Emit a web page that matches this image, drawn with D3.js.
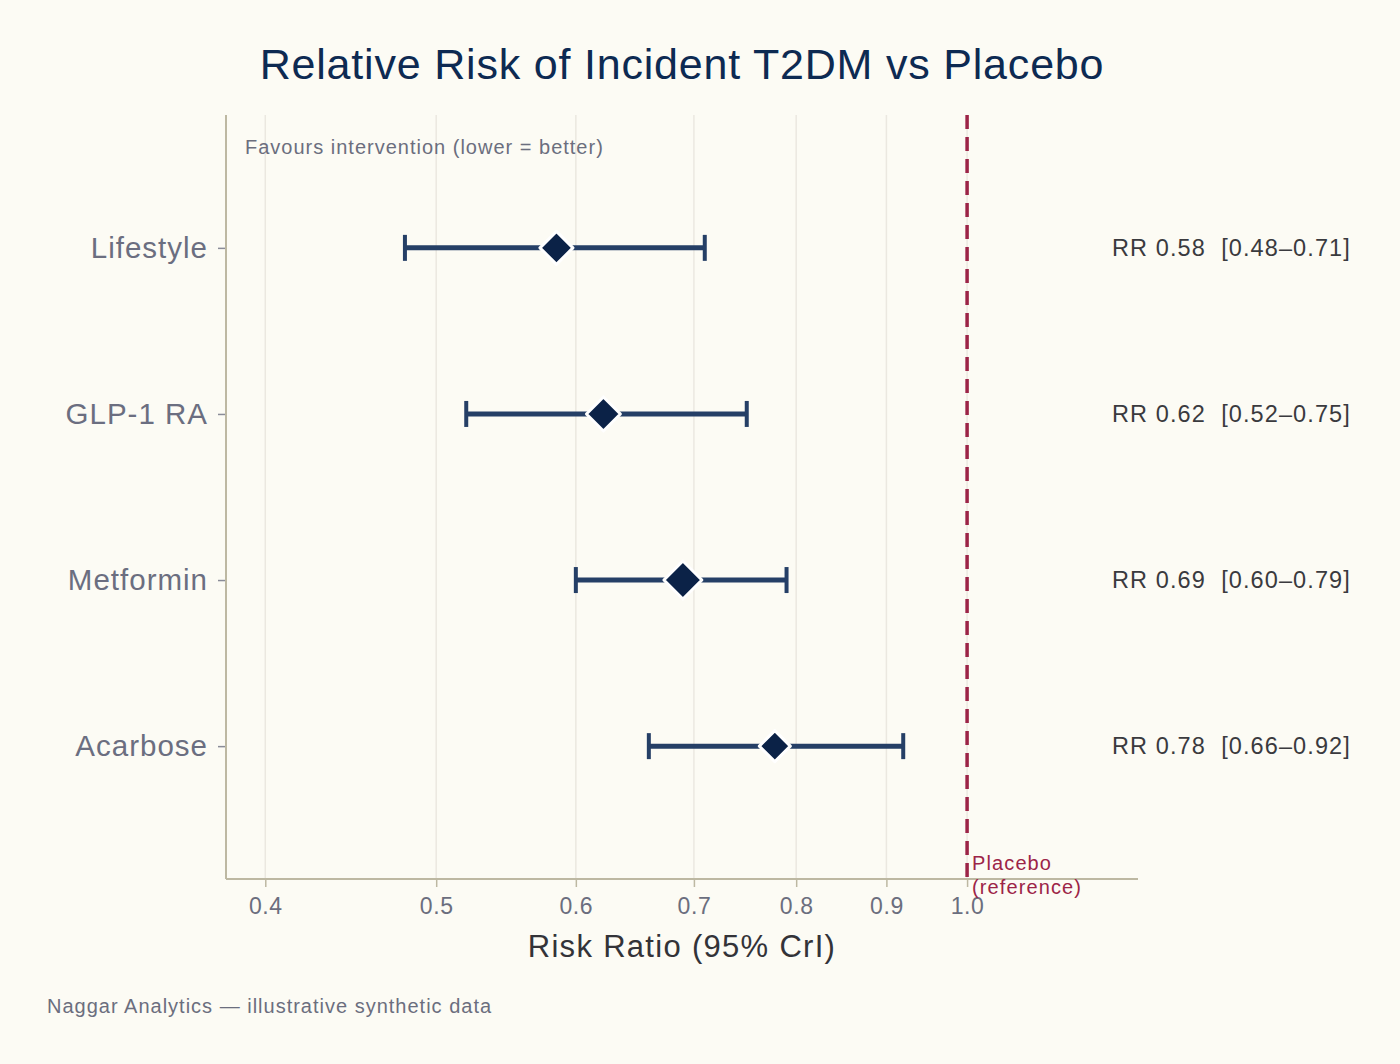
<!DOCTYPE html>
<html>
<head>
<meta charset="utf-8">
<script src="https://cdn.jsdelivr.net/npm/d3@7"></script>
<style>
  html, body { margin: 0; padding: 0; background: #fcfbf4; }
  svg { display: block; font-family: "Liberation Sans", Arial, Helvetica, sans-serif; }
  text { white-space: pre; }
</style>
</head>
<body>
<svg id="chart" width="1400" height="1064"></svg>
<script>
const categories = ["Lifestyle", "GLP-1 RA", "Metformin", "Acarbose"];
const estimates = [0.585, 0.622, 0.69, 0.778];
const lowerCI = [0.48, 0.52, 0.60, 0.66];
const upperCI = [0.71, 0.75, 0.79, 0.92];
const rrLabels = ["RR 0.58  [0.48\u20130.71]", "RR 0.62  [0.52\u20130.75]", "RR 0.69  [0.60\u20130.79]", "RR 0.78  [0.66\u20130.92]"];
const markerWeights = [16.5, 17, 19, 15.5];
const xTicks = [0.4, 0.5, 0.6, 0.7, 0.8, 0.9, 1.0];
const referenceValue = 1.0;

const svg = d3.select("#chart");
const W = 1400, H = 1064;
const m = { left: 226, right: 1138, top: 115, bottom: 879 };
const FONT = "Liberation Sans, Arial, sans-serif";

svg.append("rect").attr("width", W).attr("height", H).attr("fill", "#fcfbf4");

const x = d3.scaleLog().domain([0.38, 1.25]).range([m.left, m.right]);
const y = d3.scalePoint().domain(categories).range([m.top, m.bottom]).padding(0.8);

// gridlines
svg.append("g").selectAll("line").data(xTicks).join("line")
  .attr("x1", d => x(d)).attr("x2", d => x(d))
  .attr("y1", m.top).attr("y2", m.bottom)
  .attr("stroke", "#ebe8e0").attr("stroke-width", 1.5);

// x axis
const xAxis = d3.axisBottom(x).tickValues(xTicks).tickFormat(d3.format(".1f")).tickSize(8).tickPadding(11);
const gx = svg.append("g").attr("transform", `translate(0,${m.bottom})`).call(xAxis);
gx.select(".domain").remove();
gx.selectAll(".tick line").attr("stroke", "#bdb8a2").attr("stroke-width", 1.5);
gx.selectAll(".tick text").attr("fill", "#6b6e7e").attr("font-size", 23).attr("letter-spacing", 0.6).attr("font-family", FONT);

// y axis
const yAxis = d3.axisLeft(y).tickSize(8).tickPadding(10);
const gy = svg.append("g").attr("transform", `translate(${m.left},0)`).call(yAxis);
gy.select(".domain").remove();
gy.selectAll(".tick line").attr("stroke", "#8a8c98").attr("stroke-width", 1.5);
gy.selectAll(".tick text").attr("fill", "#6b6e80").attr("font-size", 29.5).attr("letter-spacing", 1).attr("font-family", FONT);

// axis lines
svg.append("line").attr("x1", m.left).attr("x2", m.left).attr("y1", m.top).attr("y2", m.bottom)
  .attr("stroke", "#bdb8a2").attr("stroke-width", 2);
svg.append("line").attr("x1", m.left).attr("x2", m.right).attr("y1", m.bottom).attr("y2", m.bottom)
  .attr("stroke", "#bdb8a2").attr("stroke-width", 2);

// reference line
svg.append("line").attr("x1", x(referenceValue)).attr("x2", x(referenceValue))
  .attr("y1", m.top).attr("y2", m.bottom)
  .attr("stroke", "#9c2447").attr("stroke-width", 3.5).attr("stroke-dasharray", "14,8");

const refLabel = svg.append("text").attr("x", x(referenceValue) + 5).attr("y", m.bottom - 9)
  .attr("fill", "#9c2447").attr("font-size", 20).attr("letter-spacing", 1.1);
refLabel.append("tspan").attr("x", x(referenceValue) + 5).text("Placebo");
refLabel.append("tspan").attr("x", x(referenceValue) + 5).attr("dy", 24).text("(reference)");

// data
const data = categories.map((c, i) => ({ c, est: estimates[i], lo: lowerCI[i], hi: upperCI[i], label: rrLabels[i], w: markerWeights[i] }));
const barColor = "#253f66";
const rows = svg.append("g").selectAll("g").data(data).join("g");
rows.append("line").attr("x1", d => x(d.lo)).attr("x2", d => x(d.hi))
  .attr("y1", d => y(d.c)).attr("y2", d => y(d.c))
  .attr("stroke", barColor).attr("stroke-width", 5);
rows.append("line").attr("x1", d => x(d.lo)).attr("x2", d => x(d.lo))
  .attr("y1", d => y(d.c) - 13).attr("y2", d => y(d.c) + 13)
  .attr("stroke", barColor).attr("stroke-width", 4);
rows.append("line").attr("x1", d => x(d.hi)).attr("x2", d => x(d.hi))
  .attr("y1", d => y(d.c) - 13).attr("y2", d => y(d.c) + 13)
  .attr("stroke", barColor).attr("stroke-width", 4);
rows.append("path")
  .attr("d", d => `M${x(d.est)},${y(d.c) - d.w}L${x(d.est) + d.w},${y(d.c)}L${x(d.est)},${y(d.c) + d.w}L${x(d.est) - d.w},${y(d.c)}Z`)
  .attr("fill", "#0b2247").attr("stroke", "#ffffff").attr("stroke-width", 3).attr("stroke-linejoin", "round");
rows.append("text").attr("x", 1112).attr("y", d => y(d.c)).attr("dy", "0.35em")
  .attr("fill", "#3a3a3e").attr("font-size", 23.5).attr("letter-spacing", 1.1).text(d => d.label);

// annotations
svg.append("text").attr("x", 245).attr("y", 154).attr("fill", "#6b6e7e").attr("font-size", 20).attr("letter-spacing", 1)
  .text("Favours intervention (lower = better)");

svg.append("text").attr("x", (m.left + m.right) / 2).attr("y", 79).attr("text-anchor", "middle")
  .attr("fill", "#0d2a52").attr("font-size", 43).attr("letter-spacing", 0.8).text("Relative Risk of Incident T2DM vs Placebo");

svg.append("text").attr("x", (m.left + m.right) / 2).attr("y", 957).attr("text-anchor", "middle")
  .attr("fill", "#333338").attr("font-size", 31).attr("letter-spacing", 1.3).text("Risk Ratio (95% CrI)");

svg.append("text").attr("x", 47).attr("y", 1013).attr("fill", "#6b6e7e").attr("font-size", 20).attr("letter-spacing", 1)
  .text("Naggar Analytics \u2014 illustrative synthetic data");
</script>
</body>
</html>
